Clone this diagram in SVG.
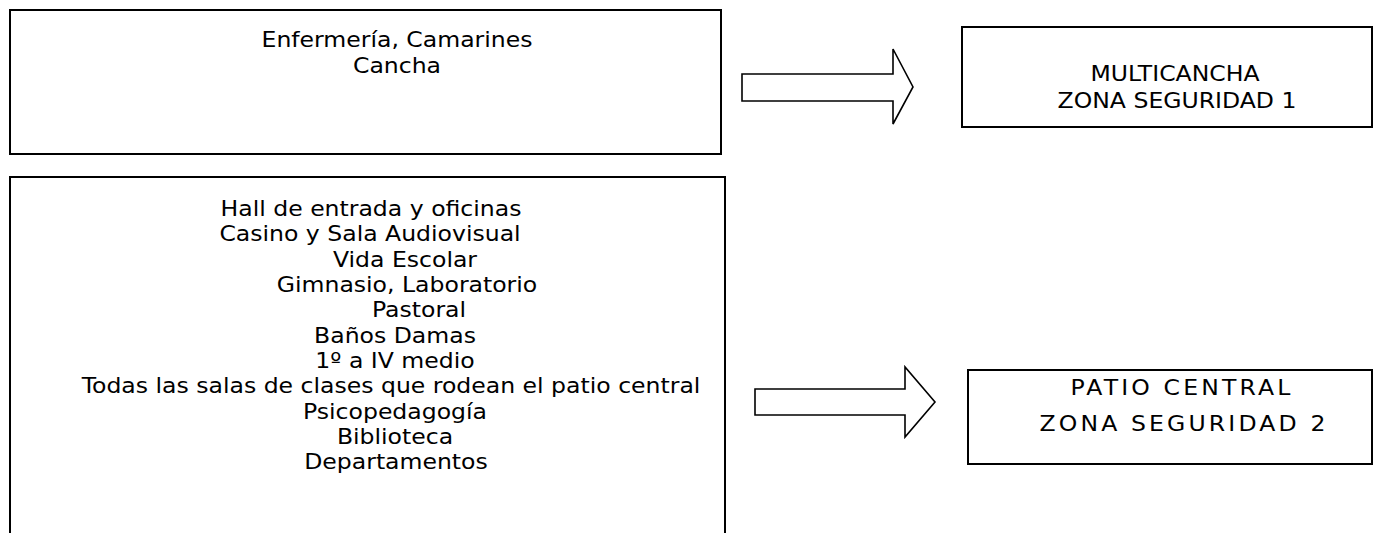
<svg xmlns="http://www.w3.org/2000/svg" width="1387" height="533" viewBox="0 0 1387 533">
<style>
.box{fill:#fff;stroke:#000;stroke-width:2}
.arrow{fill:#fff;stroke:#000;stroke-width:1.6;stroke-linejoin:miter}
text{font-family:"DejaVu Sans","Verdana",sans-serif;font-size:21px;fill:#000;text-anchor:middle}
.sp{letter-spacing:2.8px}
</style>
<rect x="0" y="0" width="1387" height="533" fill="#fff"/>
<g id="connectors">
<polygon class="arrow" points="742,74 893,74 893,49 913,87 893,124 893,101 742,101"/>
<polygon class="arrow" points="755,389 905,389 905,367 935,402 905,437 905,415 755,415"/>
</g>
<g id="node-areas1">
<rect class="box" x="10" y="10" width="711" height="144"/>
<text transform="matrix(1.122 0 0 1 397 47)">Enfermería, Camarines</text>
<text transform="matrix(1.122 0 0 1 397 73)">Cancha</text>
</g>
<g id="node-areas2">
<rect class="box" x="10" y="177" width="715" height="380"/>
<text transform="matrix(1.122 0 0 1 371 216)">Hall de entrada y oficinas</text>
<text transform="matrix(1.122 0 0 1 370 241)">Casino y Sala Audiovisual</text>
<text transform="matrix(1.122 0 0 1 405 267)">Vida Escolar</text>
<text transform="matrix(1.122 0 0 1 407 292)">Gimnasio, Laboratorio</text>
<text transform="matrix(1.122 0 0 1 419 317)">Pastoral</text>
<text transform="matrix(1.122 0 0 1 395 343)">Baños Damas</text>
<text transform="matrix(1.122 0 0 1 395 368)">1º a IV medio</text>
<text transform="matrix(1.122 0 0 1 391 393)">Todas las salas de clases que rodean el patio central</text>
<text transform="matrix(1.122 0 0 1 395 419)">Psicopedagogía</text>
<text transform="matrix(1.122 0 0 1 395 444)">Biblioteca</text>
<text transform="matrix(1.122 0 0 1 396 469)">Departamentos</text>
</g>
<g id="node-zona1">
<rect class="box" x="962" y="27" width="410" height="100"/>
<text transform="matrix(1.122 0 0 1 1175 81)">MULTICANCHA</text>
<text transform="matrix(1.122 0 0 1 1177 108)">ZONA SEGURIDAD 1</text>
</g>
<g id="node-zona2">
<rect class="box" x="968" y="370" width="404" height="94"/>
<text class="sp" transform="matrix(1.122 0 0 1 1182 395)">PATIO CENTRAL</text>
<text class="sp" transform="matrix(1.122 0 0 1 1184 431)">ZONA SEGURIDAD 2</text>
</g>
</svg>
